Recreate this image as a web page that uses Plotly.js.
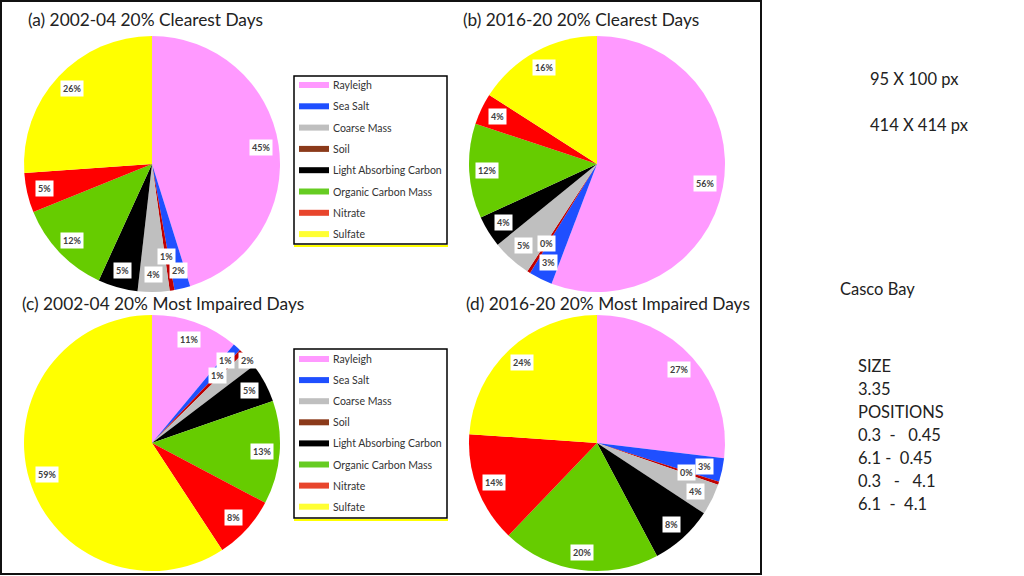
<!DOCTYPE html>
<html>
<head>
<meta charset="utf-8">
<script src="https://cdn.plot.ly/plotly-3.0.1.min.js"></script>
<style>html,body{margin:0;padding:0;background:#fff;}#chart{width:1024px;height:576px;}</style>
</head>
<body>
<div id="chart"></div>
<script>
// ---- data ----
const categories = ['Rayleigh','Sea Salt','Soil','Coarse Mass','Light Absorbing Carbon','Organic Carbon Mass','Nitrate','Sulfate'];
const clear0204 = [45, 2, 0.6, 4, 5, 12, 5, 26];
const clear1620 = [56, 3, 0.4, 5, 4, 12, 4, 16];
const impaired0204 = [11, 1, 0.6, 2, 5, 13, 8, 59];
const impaired1620 = [27, 3, 0.4, 4, 8, 20, 14, 24];
const panelTitles = ['(a) 2002-04 20% Clearest Days','(b) 2016-20 20% Clearest Days','(c) 2002-04 20% Most Impaired Days','(d) 2016-20 20% Most Impaired Days'];
const legendOrder = ['Rayleigh','Sea Salt','Coarse Mass','Soil','Light Absorbing Carbon','Organic Carbon Mass','Nitrate','Sulfate'];
const sideNotes = ['95 X 100 px','414 X 414 px'];
const siteName = 'Casco Bay';
const sizeNotes = ['SIZE','3.35','POSITIONS','0.3  -   0.45','6.1 -  0.45','0.3   -   4.1','6.1  -  4.1'];

// ---- styles ----
const sliceColors = {'Rayleigh':'#FF99FF','Sea Salt':'#1F4FFF','Soil':'#C00000','Coarse Mass':'#BFBFBF','Light Absorbing Carbon':'#000000','Organic Carbon Mass':'#66CC00','Nitrate':'#FF0000','Sulfate':'#FFFF00'};
const legendColors = {'Rayleigh':'#FF99FF','Sea Salt':'#1F4FFF','Coarse Mass':'#BFBFBF','Soil':'#8B3A1A','Light Absorbing Carbon':'#000000','Organic Carbon Mass':'#66CC22','Nitrate':'#E8452C','Sulfate':'#FFFF33'};
const W = 1024, H = 576;
const px = x => x / W, py = y => 1 - y / H;
const FONT = 'Lato, "Open Sans", sans-serif';
const R = 128;
const panels = [
  {vals: clear0204, cx: 152, cy: 164, tx: 26, ty: 19},
  {vals: clear1620, cx: 597, cy: 164, tx: 461, ty: 19},
  {vals: impaired0204, cx: 152, cy: 443, tx: 20, ty: 303},
  {vals: impaired1620, cx: 597, cy: 443, tx: 464, ty: 303}
];

const traces = [], annotations = [], shapes = [];

panels.forEach((p, i) => {
  traces.push({
    type: 'pie', values: p.vals, labels: categories, sort: false,
    direction: 'clockwise', rotation: 0, textinfo: 'none',
    hovertemplate: '%{label}: %{percent}<extra></extra>',
    marker: {colors: categories.map(c => sliceColors[c]), line: {width: 0}},
    domain: {x: [px(p.cx - R), px(p.cx + R)], y: [py(p.cy + R), py(p.cy - R)]}
  });
  annotations.push({
    text: panelTitles[i], xref: 'paper', yref: 'paper', x: px(p.tx), y: py(p.ty),
    xanchor: 'left', yanchor: 'middle', showarrow: false,
    font: {family: FONT, size: 17.3, color: '#222'}
  });
  // slice labels, placed from the slice angles
  const total = p.vals.reduce((a, b) => a + b, 0);
  let cum = 0;
  const placed = [];
  p.vals.forEach(v => {
    const mid = (cum + v / 2) / total * 2 * Math.PI;
    cum += v;
    const txt = Math.round(v / total * 100) + '%';
    const bw = 5 * txt.length + 7, bh = 13;
    const offsets = [0, -16, 16, -32, 32];
    let pos = null;
    for (const o of offsets) {
      const r = 0.86 * R + o;
      const x = p.cx + r * Math.sin(mid), y = p.cy - r * Math.cos(mid);
      const hit = placed.some(q => Math.abs(q.x - x) < (q.w + bw) / 2 && Math.abs(q.y - y) < bh);
      if (!hit) { pos = {x, y, w: bw}; break; }
    }
    if (!pos) { const r = 0.86 * R; pos = {x: p.cx + r * Math.sin(mid), y: p.cy - r * Math.cos(mid), w: bw}; }
    placed.push(pos);
    annotations.push({
      text: '<b>' + txt + '</b>', xref: 'paper', yref: 'paper', x: px(pos.x), y: py(pos.y),
      xanchor: 'center', yanchor: 'middle', showarrow: false, bgcolor: '#FFFFFF', borderpad: 2,
      font: {family: FONT, size: 9, color: '#404040'}
    });
  });
});

// legends
[{top: 76, bottom: 244, row0: 85, step: 21.3}, {top: 349, bottom: 518, row0: 359, step: 21.1}].forEach(L => {
  shapes.push({type: 'line', xref: 'paper', yref: 'paper', x0: px(294), x1: px(448), y0: py(L.bottom + 2), y1: py(L.bottom + 2), line: {color: '#FFFF00', width: 2}});
  shapes.push({type: 'rect', xref: 'paper', yref: 'paper', x0: px(294), x1: px(447), y0: py(L.bottom), y1: py(L.top), line: {color: '#000', width: 1.5}, fillcolor: 'rgba(0,0,0,0)'});
  legendOrder.forEach((c, k) => {
    const y = L.row0 + k * L.step;
    shapes.push({type: 'rect', xref: 'paper', yref: 'paper', x0: px(299), x1: px(329), y0: py(y + 3), y1: py(y - 3), line: {width: 0}, fillcolor: legendColors[c]});
    annotations.push({text: c, xref: 'paper', yref: 'paper', x: px(331), y: py(y), xanchor: 'left', yanchor: 'middle', showarrow: false, font: {family: FONT, size: 10.5, color: '#333'}});
  });
});

// outer frame
shapes.push({type: 'rect', xref: 'paper', yref: 'paper', x0: px(1), x1: px(761), y0: py(574), y1: py(1), line: {color: '#111', width: 2}, fillcolor: 'rgba(0,0,0,0)'});

// side notes
const NOTE = {family: FONT, size: 16.5, color: '#222'};
sideNotes.forEach((t, k) => annotations.push({text: t, xref: 'paper', yref: 'paper', x: px(868), y: py(79 + k * 46), xanchor: 'left', yanchor: 'middle', showarrow: false, font: NOTE}));
annotations.push({text: siteName, xref: 'paper', yref: 'paper', x: px(838), y: py(289), xanchor: 'left', yanchor: 'middle', showarrow: false, font: NOTE});
sizeNotes.forEach((t, k) => annotations.push({text: t.replace(/ /g, '&nbsp;'), xref: 'paper', yref: 'paper', x: px(856), y: py(366 + k * 23), xanchor: 'left', yanchor: 'middle', showarrow: false, font: NOTE}));

Plotly.newPlot('chart', traces, {
  width: W, height: H, margin: {l: 0, r: 0, t: 0, b: 0},
  paper_bgcolor: '#fff', plot_bgcolor: '#fff', showlegend: false,
  annotations, shapes
}, {displayModeBar: false, staticPlot: true});
</script>
</body>
</html>
